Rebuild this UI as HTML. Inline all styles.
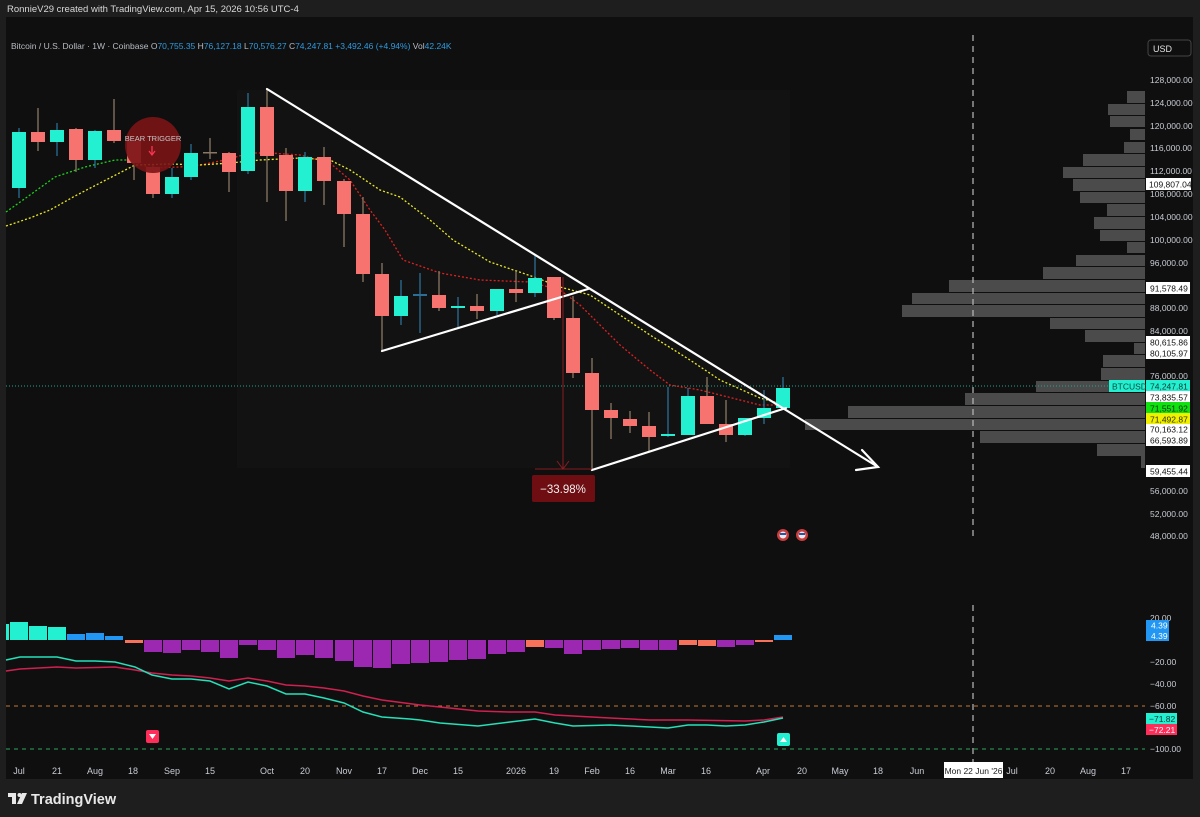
<!DOCTYPE html>
<html><head><meta charset="utf-8"><style>
html,body{margin:0;padding:0;background:#1e1e1e;width:1200px;height:817px;overflow:hidden}
svg{display:block}
text{font-family:"Liberation Sans",sans-serif}
</style></head><body>
<svg width="1200" height="817" viewBox="0 0 1200 817" xmlns="http://www.w3.org/2000/svg">
<rect x="0" y="0" width="1200" height="817" fill="#1e1e1e"/>
<text x="7" y="12" font-size="9.5" fill="#d8d8d8">RonnieV29 created with TradingView.com, Apr 15, 2026 10:56 UTC-4</text>
<rect x="6" y="17" width="1187" height="762" fill="#0f0f0f"/>
<rect x="237" y="90" width="553" height="378" fill="#121212"/>
<text x="11" y="49" font-size="8.5" fill="#b8bcc4">Bitcoin / U.S. Dollar · 1W · Coinbase <tspan>O</tspan><tspan fill="#2f9be0">70,755.35</tspan> <tspan>H</tspan><tspan fill="#2f9be0">76,127.18</tspan> <tspan>L</tspan><tspan fill="#2f9be0">70,576.27</tspan> <tspan>C</tspan><tspan fill="#2f9be0">74,247.81</tspan> <tspan fill="#2f9be0">+3,492.46 (+4.94%)</tspan> <tspan>Vol</tspan><tspan fill="#2f9be0">42.24K</tspan></text>
<rect x="1148" y="40" width="43" height="16" rx="3" fill="#0f0f0f" stroke="#444" stroke-width="1"/>
<text x="1153" y="52" font-size="9" fill="#e0e0e0">USD</text>

<g fill="#4b4b4b">
<rect x="1127" y="91" width="18" height="12"/>
<rect x="1108" y="104" width="37" height="11"/>
<rect x="1110" y="116" width="35" height="11"/>
<rect x="1130" y="129" width="15" height="11"/>
<rect x="1124" y="142" width="21" height="11"/>
<rect x="1083" y="154" width="62" height="12"/>
<rect x="1063" y="167" width="82" height="11"/>
<rect x="1073" y="179" width="72" height="12"/>
<rect x="1080" y="192" width="65" height="11"/>
<rect x="1107" y="204" width="38" height="12"/>
<rect x="1094" y="217" width="51" height="12"/>
<rect x="1100" y="230" width="45" height="11"/>
<rect x="1127" y="242" width="18" height="11"/>
<rect x="1076" y="255" width="69" height="11"/>
<rect x="1043" y="267" width="102" height="12"/>
<rect x="949" y="280" width="196" height="12"/>
<rect x="912" y="293" width="233" height="11"/>
<rect x="902" y="305" width="243" height="12"/>
<rect x="1050" y="318" width="95" height="11"/>
<rect x="1085" y="330" width="60" height="12"/>
<rect x="1134" y="343" width="11" height="11"/>
<rect x="1103" y="355" width="42" height="12"/>
<rect x="1101" y="368" width="44" height="12"/>
<rect x="1036" y="381" width="109" height="11"/>
<rect x="965" y="393" width="180" height="12"/>
<rect x="848" y="406" width="297" height="12"/>
<rect x="805" y="419" width="340" height="11"/>
<rect x="980" y="431" width="165" height="12"/>
<rect x="1097" y="444" width="48" height="12"/>
<rect x="1141" y="456" width="4" height="12"/>
</g>

<line x1="973" y1="35" x2="973" y2="536" stroke="#bbb" stroke-width="1.2" stroke-dasharray="6,5"/>
<line x1="973" y1="605" x2="973" y2="770" stroke="#bbb" stroke-width="1.2" stroke-dasharray="6,5"/>

<line x1="6" y1="386" x2="1110" y2="386" stroke="#1fa58f" stroke-width="1" stroke-dasharray="1,2"/>

<polyline fill="none" stroke="#1ed21e" stroke-width="1.3" stroke-dasharray="2,2" points="6,212 30,195 55,177 85,167 115,160 130,160"/>
<polyline fill="none" stroke="#e02020" stroke-width="1.3" stroke-dasharray="2,2" points="130,160 150,168 180,167 200,165 225,160 250,153 270,153 300,155 330,163 350,180 370,210 385,230 403,260 440,273 480,280 530,282 560,290 580,305 600,325 620,345 650,370 670,385 700,390 740,400 760,405 785,405"/>
<polyline fill="none" stroke="#e8e82a" stroke-width="1.3" stroke-dasharray="2,2" points="6,226 30,218 50,210 75,196 100,183 135,165 170,164 200,165 230,163 260,160 300,158 330,160 350,170 380,190 400,197 430,220 453,240 490,262 537,278 560,287 590,295 620,315 650,335 690,360 720,380 760,398 785,405"/>

<g stroke-width="1.3">
<line x1="19" y1="128" x2="19" y2="198" stroke="#2b6f96"/>
<line x1="38" y1="108" x2="38" y2="151" stroke="#8a7864"/>
<line x1="57" y1="123" x2="57" y2="156" stroke="#2b6f96"/>
<line x1="76" y1="128" x2="76" y2="172" stroke="#8a7864"/>
<line x1="95" y1="130" x2="95" y2="168" stroke="#2b6f96"/>
<line x1="114" y1="99" x2="114" y2="143" stroke="#8a7864"/>
<line x1="134" y1="140" x2="134" y2="180" stroke="#8a7864"/>
<line x1="153" y1="165" x2="153" y2="198" stroke="#8a7864"/>
<line x1="172" y1="168" x2="172" y2="198" stroke="#2b6f96"/>
<line x1="191" y1="144" x2="191" y2="180" stroke="#2b6f96"/>
<line x1="210" y1="138" x2="210" y2="159" stroke="#8a7864"/>
<line x1="229" y1="152" x2="229" y2="192" stroke="#8a7864"/>
<line x1="248" y1="93" x2="248" y2="174" stroke="#2b6f96"/>
<line x1="267" y1="90" x2="267" y2="202" stroke="#8a7864"/>
<line x1="286" y1="148" x2="286" y2="221" stroke="#8a7864"/>
<line x1="305" y1="152" x2="305" y2="202" stroke="#2b6f96"/>
<line x1="324" y1="147" x2="324" y2="205" stroke="#8a7864"/>
<line x1="344" y1="179" x2="344" y2="247" stroke="#8a7864"/>
<line x1="363" y1="197" x2="363" y2="282" stroke="#8a7864"/>
<line x1="382" y1="263" x2="382" y2="350" stroke="#8a7864"/>
<line x1="401" y1="280" x2="401" y2="325" stroke="#2b6f96"/>
<line x1="420" y1="273" x2="420" y2="333" stroke="#2b6f96"/>
<line x1="439" y1="271" x2="439" y2="311" stroke="#8a7864"/>
<line x1="458" y1="297" x2="458" y2="327" stroke="#2b6f96"/>
<line x1="477" y1="294" x2="477" y2="319" stroke="#8a7864"/>
<line x1="497" y1="289" x2="497" y2="315" stroke="#2b6f96"/>
<line x1="516" y1="271" x2="516" y2="302" stroke="#8a7864"/>
<line x1="535" y1="255" x2="535" y2="297" stroke="#2b6f96"/>
<line x1="554" y1="277" x2="554" y2="320" stroke="#8a7864"/>
<line x1="573" y1="296" x2="573" y2="378" stroke="#8a7864"/>
<line x1="592" y1="358" x2="592" y2="469" stroke="#8a7864"/>
<line x1="611" y1="403" x2="611" y2="439" stroke="#8a7864"/>
<line x1="630" y1="411" x2="630" y2="433" stroke="#8a7864"/>
<line x1="649" y1="412" x2="649" y2="452" stroke="#8a7864"/>
<line x1="668" y1="387" x2="668" y2="437" stroke="#2b6f96"/>
<line x1="688" y1="388" x2="688" y2="435" stroke="#2b6f96"/>
<line x1="707" y1="377" x2="707" y2="424" stroke="#8a7864"/>
<line x1="726" y1="400" x2="726" y2="442" stroke="#8a7864"/>
<line x1="745" y1="418" x2="745" y2="436" stroke="#2b6f96"/>
<line x1="764" y1="390" x2="764" y2="424" stroke="#2b6f96"/>
<line x1="783" y1="377" x2="783" y2="408" stroke="#2b6f96"/>
</g>
<g>
<rect x="12" y="132" width="14" height="56" fill="#22f0d0"/>
<rect x="31" y="132" width="14" height="10" fill="#f7736f"/>
<rect x="50" y="130" width="14" height="12" fill="#22f0d0"/>
<rect x="69" y="129" width="14" height="31" fill="#f7736f"/>
<rect x="88" y="131" width="14" height="29" fill="#22f0d0"/>
<rect x="107" y="130" width="14" height="11" fill="#f7736f"/>
<rect x="127" y="141" width="14" height="22" fill="#f7736f"/>
<rect x="146" y="167" width="14" height="27" fill="#f7736f"/>
<rect x="165" y="177" width="14" height="17" fill="#22f0d0"/>
<rect x="184" y="153" width="14" height="24" fill="#22f0d0"/>
<rect x="203" y="152" width="14" height="1.5" fill="#8a7864"/>
<rect x="222" y="153" width="14" height="19" fill="#f7736f"/>
<rect x="241" y="107" width="14" height="64" fill="#22f0d0"/>
<rect x="260" y="107" width="14" height="49" fill="#f7736f"/>
<rect x="279" y="155" width="14" height="36" fill="#f7736f"/>
<rect x="298" y="157" width="14" height="34" fill="#22f0d0"/>
<rect x="317" y="157" width="14" height="24" fill="#f7736f"/>
<rect x="337" y="181" width="14" height="33" fill="#f7736f"/>
<rect x="356" y="214" width="14" height="60" fill="#f7736f"/>
<rect x="375" y="274" width="14" height="42" fill="#f7736f"/>
<rect x="394" y="296" width="14" height="20" fill="#22f0d0"/>
<rect x="413" y="294" width="14" height="2" fill="#2b6f96"/>
<rect x="432" y="295" width="14" height="13" fill="#f7736f"/>
<rect x="451" y="306" width="14" height="2" fill="#22f0d0"/>
<rect x="470" y="306" width="14" height="5" fill="#f7736f"/>
<rect x="490" y="289" width="14" height="22" fill="#22f0d0"/>
<rect x="509" y="289" width="14" height="4" fill="#f7736f"/>
<rect x="528" y="278" width="14" height="15" fill="#22f0d0"/>
<rect x="547" y="277" width="14" height="41" fill="#f7736f"/>
<rect x="566" y="318" width="14" height="55" fill="#f7736f"/>
<rect x="585" y="373" width="14" height="37" fill="#f7736f"/>
<rect x="604" y="410" width="14" height="8" fill="#f7736f"/>
<rect x="623" y="419" width="14" height="7" fill="#f7736f"/>
<rect x="642" y="426" width="14" height="11" fill="#f7736f"/>
<rect x="661" y="434" width="14" height="2" fill="#22f0d0"/>
<rect x="681" y="396" width="14" height="39" fill="#22f0d0"/>
<rect x="700" y="396" width="14" height="28" fill="#f7736f"/>
<rect x="719" y="424" width="14" height="11" fill="#f7736f"/>
<rect x="738" y="418" width="14" height="17" fill="#22f0d0"/>
<rect x="757" y="408" width="14" height="10" fill="#22f0d0"/>
<rect x="776" y="388" width="14" height="20" fill="#22f0d0"/>
</g>

<g stroke="#ffffff" stroke-width="2.2" fill="none" stroke-linecap="round">
<line x1="267" y1="89" x2="878" y2="467"/>
<polyline points="862,450 878,467 856,470"/>
<line x1="382" y1="351" x2="588" y2="289"/>
<line x1="592" y1="470" x2="786" y2="408"/>
</g>

<circle cx="153" cy="145" r="28" fill="#7a1416" opacity="0.9"/>
<text x="153" y="141" font-size="7.5" fill="#c8c8c8" text-anchor="middle">BEAR TRIGGER</text>
<line x1="152" y1="146" x2="152" y2="154" stroke="#ff3355" stroke-width="1.3"/>
<polyline points="149,151 152,155 155,151" stroke="#ff3355" stroke-width="1.2" fill="none"/>

<line x1="563" y1="277" x2="563" y2="469" stroke="#8a1c20" stroke-width="1"/>
<polyline points="557,461 563,469 569,461" stroke="#8a1c20" fill="none"/>
<line x1="535" y1="469" x2="592" y2="469" stroke="#8a1c20" stroke-width="1"/>
<rect x="532" y="475" width="63" height="27" rx="2" fill="#6e0e12"/>
<text x="563" y="493" font-size="11.5" fill="#f0f0f0" text-anchor="middle">−33.98%</text>

<circle cx="783" cy="535" r="6" fill="#c83c3c"/><circle cx="783" cy="535" r="3.5" fill="#e8e8f0"/><rect x="780" y="533" width="6" height="2" fill="#3050a0"/>
<circle cx="802" cy="535" r="6" fill="#c83c3c"/><circle cx="802" cy="535" r="3.5" fill="#e8e8f0"/><rect x="799" y="533" width="6" height="2" fill="#3050a0"/>

<g font-size="8.5" fill="#c8ccd4">
<text x="1150" y="83">128,000.00</text>
<text x="1150" y="106">124,000.00</text>
<text x="1150" y="129">120,000.00</text>
<text x="1150" y="151">116,000.00</text>
<text x="1150" y="174">112,000.00</text>
<text x="1150" y="197">108,000.00</text>
<text x="1150" y="220">104,000.00</text>
<text x="1150" y="243">100,000.00</text>
<text x="1150" y="266">96,000.00</text>
<text x="1150" y="311">88,000.00</text>
<text x="1150" y="334">84,000.00</text>
<text x="1150" y="379">76,000.00</text>
<text x="1150" y="494">56,000.00</text>
<text x="1150" y="517">52,000.00</text>
<text x="1150" y="539">48,000.00</text>
</g>
<g font-size="8.5">
<rect x="1146" y="178" width="45" height="12" fill="#fff"/><text x="1149" y="187.5" fill="#111">109,807.04</text>
<rect x="1146" y="282" width="44" height="12" fill="#fff"/><text x="1150" y="291.5" fill="#111">91,578.49</text>
<rect x="1146" y="336" width="44" height="12" fill="#fff"/><text x="1150" y="345.5" fill="#111">80,615.86</text>
<rect x="1146" y="347" width="44" height="12" fill="#fff"/><text x="1150" y="356.5" fill="#111">80,105.97</text>
<rect x="1109" y="380" width="36" height="12" fill="#22f0d0"/><text x="1112" y="389.5" fill="#0b4a40">BTCUSD</text>
<rect x="1146" y="380" width="44" height="12" fill="#22f0d0"/><text x="1150" y="389.5" fill="#0b3a33">74,247.81</text>
<rect x="1146" y="391" width="44" height="12" fill="#fff"/><text x="1150" y="400.5" fill="#111">73,835.57</text>
<rect x="1146" y="402" width="44" height="12" fill="#11e011"/><text x="1150" y="411.5" fill="#0a330a">71,551.92</text>
<rect x="1146" y="413" width="44" height="12" fill="#f0f000"/><text x="1150" y="422.5" fill="#333300">71,492.87</text>
<rect x="1146" y="424" width="44" height="11" fill="#fff"/><text x="1150" y="432.5" fill="#111">70,163.12</text>
<rect x="1146" y="434" width="44" height="12" fill="#fff"/><text x="1150" y="443.5" fill="#111">66,593.89</text>
<rect x="1146" y="465" width="44" height="12" fill="#fff"/><text x="1150" y="474.5" fill="#111">59,455.44</text>
</g>

<g>
<rect x="6" y="624" width="3" height="16" fill="#22f0d0"/>
<rect x="10" y="622" width="18" height="18" fill="#22f0d0"/>
<rect x="29" y="626" width="18" height="14" fill="#22f0d0"/>
<rect x="48" y="627" width="18" height="13" fill="#22f0d0"/>
<rect x="67" y="634" width="18" height="6" fill="#2196f3"/>
<rect x="86" y="633" width="18" height="7" fill="#2196f3"/>
<rect x="105" y="636" width="18" height="4" fill="#2196f3"/>
<rect x="125" y="640" width="18" height="3" fill="#f7725b"/>
<rect x="144" y="640" width="18" height="12" fill="#9c27b0"/>
<rect x="163" y="640" width="18" height="13" fill="#9c27b0"/>
<rect x="182" y="640" width="18" height="10" fill="#9c27b0"/>
<rect x="201" y="640" width="18" height="12" fill="#9c27b0"/>
<rect x="220" y="640" width="18" height="18" fill="#9c27b0"/>
<rect x="239" y="640" width="18" height="5" fill="#9c27b0"/>
<rect x="258" y="640" width="18" height="10" fill="#9c27b0"/>
<rect x="277" y="640" width="18" height="18" fill="#9c27b0"/>
<rect x="296" y="640" width="18" height="15" fill="#9c27b0"/>
<rect x="315" y="640" width="18" height="18" fill="#9c27b0"/>
<rect x="335" y="640" width="18" height="21" fill="#9c27b0"/>
<rect x="354" y="640" width="18" height="27" fill="#9c27b0"/>
<rect x="373" y="640" width="18" height="28" fill="#9c27b0"/>
<rect x="392" y="640" width="18" height="24" fill="#9c27b0"/>
<rect x="411" y="640" width="18" height="23" fill="#9c27b0"/>
<rect x="430" y="640" width="18" height="22" fill="#9c27b0"/>
<rect x="449" y="640" width="18" height="20" fill="#9c27b0"/>
<rect x="468" y="640" width="18" height="19" fill="#9c27b0"/>
<rect x="488" y="640" width="18" height="14" fill="#9c27b0"/>
<rect x="507" y="640" width="18" height="12" fill="#9c27b0"/>
<rect x="526" y="640" width="18" height="7" fill="#f7725b"/>
<rect x="545" y="640" width="18" height="8" fill="#9c27b0"/>
<rect x="564" y="640" width="18" height="14" fill="#9c27b0"/>
<rect x="583" y="640" width="18" height="10" fill="#9c27b0"/>
<rect x="602" y="640" width="18" height="9" fill="#9c27b0"/>
<rect x="621" y="640" width="18" height="8" fill="#9c27b0"/>
<rect x="640" y="640" width="18" height="10" fill="#9c27b0"/>
<rect x="659" y="640" width="18" height="10" fill="#9c27b0"/>
<rect x="679" y="640" width="18" height="5" fill="#f7725b"/>
<rect x="698" y="640" width="18" height="6" fill="#f7725b"/>
<rect x="717" y="640" width="18" height="7" fill="#9c27b0"/>
<rect x="736" y="640" width="18" height="5" fill="#9c27b0"/>
<rect x="755" y="640" width="18" height="2" fill="#f7725b"/>
<rect x="774" y="635" width="18" height="5" fill="#2196f3"/>
</g>
<line x1="6" y1="706" x2="1145" y2="706" stroke="#c07a3a" stroke-width="1" stroke-dasharray="4,4"/>
<line x1="6" y1="749" x2="1145" y2="749" stroke="#2aa860" stroke-width="1" stroke-dasharray="4,4"/>
<polyline fill="none" stroke="#d02050" stroke-width="1.5" points="6,671 20,669 57,667 76,668 115,667 135,670 152,673 172,675 191,676 210,678 229,681 248,678 267,681 286,685 305,686 324,688 344,691 363,696 382,700 420,705 440,707 478,711 510,712 535,712 555,715 573,716 610,718 650,720 688,720 745,721 764,720 783,717"/>
<polyline fill="none" stroke="#26e0b8" stroke-width="1.5" points="6,660 20,657 57,657 76,661 95,661 115,662 135,667 152,675 172,679 191,679 210,681 229,689 248,682 267,686 286,694 305,694 324,698 344,703 363,712 382,717 410,719 420,720 440,723 478,726 510,722 535,719 555,723 573,726 610,725 650,727 668,728 688,725 707,725 726,726 745,725 764,722 783,718"/>
<rect x="146" y="730" width="13" height="13" rx="2" fill="#ff2d5a"/>
<polygon points="149,734 156,734 152.5,739" fill="#fff"/>
<rect x="777" y="733" width="13" height="13" rx="2" fill="#22f0d0"/>
<polygon points="780,742 787,742 783.5,737" fill="#fff"/>

<g font-size="8.5" fill="#c8ccd4">
<text x="1150" y="621">20.00</text>
<text x="1150" y="665">−20.00</text>
<text x="1150" y="687">−40.00</text>
<text x="1150" y="709">−60.00</text>
<text x="1150" y="752">−100.00</text>
</g>
<rect x="1146" y="620" width="23" height="21" fill="#2196f3"/>
<text x="1151" y="628.5" font-size="8.5" fill="#fff">4.39</text>
<text x="1151" y="639" font-size="8.5" fill="#fff">4.39</text>
<rect x="1146" y="713" width="31" height="11" fill="#22f0d0"/><text x="1149" y="722" font-size="8.5" fill="#0b3a33">−71.82</text>
<rect x="1146" y="724" width="31" height="11" fill="#ff2d5a"/><text x="1149" y="733" font-size="8.5" fill="#fff">−72.21</text>

<g font-size="9" fill="#c8ccd4" text-anchor="middle">
<text x="19" y="774">Jul</text><text x="57" y="774">21</text><text x="95" y="774">Aug</text><text x="133" y="774">18</text>
<text x="172" y="774">Sep</text><text x="210" y="774">15</text><text x="267" y="774">Oct</text><text x="305" y="774">20</text>
<text x="344" y="774">Nov</text><text x="382" y="774">17</text><text x="420" y="774">Dec</text><text x="458" y="774">15</text>
<text x="516" y="774">2026</text><text x="554" y="774">19</text><text x="592" y="774">Feb</text><text x="630" y="774">16</text>
<text x="668" y="774">Mar</text><text x="706" y="774">16</text><text x="763" y="774">Apr</text><text x="802" y="774">20</text>
<text x="840" y="774">May</text><text x="878" y="774">18</text><text x="917" y="774">Jun</text>
<text x="1012" y="774">Jul</text><text x="1050" y="774">20</text><text x="1088" y="774">Aug</text><text x="1126" y="774">17</text>
</g>
<rect x="944" y="762" width="59" height="16" fill="#fff"/>
<text x="973.5" y="774" font-size="8.5" fill="#222" text-anchor="middle">Mon 22 Jun '26</text>

<g fill="#e8e8e8">
<rect x="8" y="793" width="8" height="4"/><rect x="12" y="793" width="4" height="11"/>
<circle cx="19.5" cy="795" r="2"/>
<polygon points="22,793 27,793 22,804 17,804"/>
</g>
<text x="31" y="804" font-size="14.5" font-weight="bold" fill="#e8e8e8">TradingView</text>
</svg>
</body></html>
